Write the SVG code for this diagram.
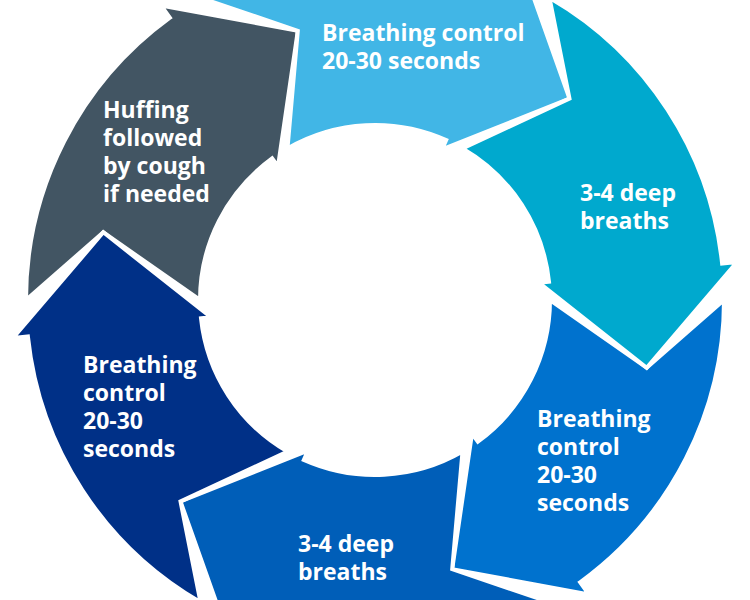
<svg xmlns="http://www.w3.org/2000/svg" width="750" height="600" viewBox="0 0 750 600">
<style>
.seg{stroke:#ffffff;stroke-width:4;stroke-linejoin:miter;stroke-miterlimit:10}
.lbl{font-family:"Open Sans","Noto Sans","Liberation Sans",sans-serif;font-weight:700;font-size:23px;fill:#ffffff}
</style>
<rect width="750" height="600" fill="#ffffff"/>
<g id="connectors"></g>
<g id="huffing">
<path class="seg" fill="#425563" d="M 26 300 A 349 349 0 0 1 169.9 17.7 L 161 5.5 L 297.8 30.8 L 278 166.5 L 272.1 158.4 A 175 175 0 0 0 200 300 L 103.3 232.3 Z"/>
<text class="lbl" x="103" y="118">Huffing</text>
<text class="lbl" x="103" y="146">followed</text>
<text class="lbl" x="103" y="174">by cough</text>
<text class="lbl" x="103" y="202">if needed</text>
</g>
<g id="breathing-control-2">
<path class="seg" fill="#0072CE" d="M 724 300 A 349 349 0 0 1 580.1 582.3 L 589 594.5 L 452.2 569.2 L 472 433.5 L 477.9 441.6 A 175 175 0 0 0 550 300 L 646.7 367.7 Z"/>
<text class="lbl" x="537" y="427">Breathing</text>
<text class="lbl" x="537" y="455">control</text>
<text class="lbl" x="537" y="483">20-30</text>
<text class="lbl" x="537" y="511">seconds</text>
</g>
<g id="deep-breaths-2">
<path class="seg" fill="#005EB8" d="M 549.5 602.2 A 349 349 0 0 1 233.1 618.8 L 227 632.5 L 180.5 501.4 L 307.9 450.7 L 303.8 459.9 A 175 175 0 0 0 462.5 451.6 L 452.2 569.2 Z"/>
<text class="lbl" x="298" y="552">3-4 deep</text>
<text class="lbl" x="298" y="580">breaths</text>
</g>
<g id="breathing-control-3">
<path class="seg" fill="#003087" d="M 200.5 602.2 A 349 349 0 0 1 27.9 336.5 L 13 338 L 103.3 232.3 L 210.9 317.2 L 201 318.3 A 175 175 0 0 0 287.5 451.6 L 180.5 501.4 Z"/>
<text class="lbl" x="83" y="373">Breathing</text>
<text class="lbl" x="83" y="401">control</text>
<text class="lbl" x="83" y="429">20-30</text>
<text class="lbl" x="83" y="457">seconds</text>
</g>
<g id="breathing-control-1">
<path class="seg" fill="#41B6E6" d="M 200.5 -2.2 A 349 349 0 0 1 516.9 -18.8 L 523 -32.5 L 569.5 98.6 L 442.1 149.3 L 446.2 140.1 A 175 175 0 0 0 287.5 148.4 L 297.8 30.8 Z"/>
<text class="lbl" x="322" y="41">Breathing control</text>
<text class="lbl" x="322" y="69">20-30 seconds</text>
</g>
<g id="deep-breaths-1">
<path class="seg" fill="#00A9CE" d="M 549.5 -2.2 A 349 349 0 0 1 722.1 263.5 L 737 262 L 646.7 367.7 L 539.1 282.8 L 549 281.7 A 175 175 0 0 0 462.5 148.4 L 569.5 98.6 Z"/>
<text class="lbl" x="580" y="201">3-4 deep</text>
<text class="lbl" x="580" y="229">breaths</text>
</g>
</svg>
